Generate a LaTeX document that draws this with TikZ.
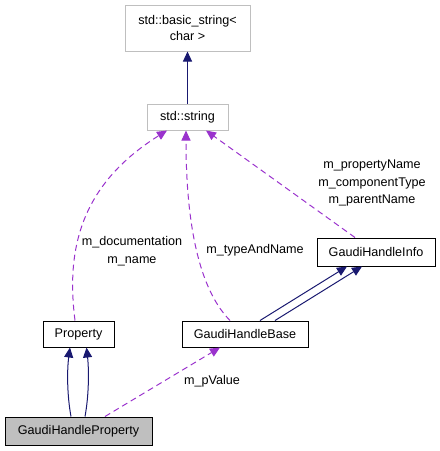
\documentclass[tikz,border=0pt]{standalone}
\usepackage{fontspec}
\setmainfont{Liberation Sans}
\usetikzlibrary{positioning}
\usetikzlibrary{arrows.meta}
\definecolor{edgeblue}{HTML}{191970}
\definecolor{edgepurple}{HTML}{9A32CD}
\definecolor{boxgray}{HTML}{BFBFBF}
\tikzset{
	cls/.style={draw=black, line width=1pt, fill=white, minimum height=26pt, inner sep=0pt, font=\fontsize{12.6}{16}\selectfont},
	extcls/.style={cls, draw=boxgray},
	inherit/.style={draw=edgeblue, line width=1pt, -{Triangle[length=10pt,width=9pt]}},
	uses/.style={draw=edgepurple, line width=1pt, dash pattern=on 6pt off 4pt, -{Triangle[length=10pt,width=9pt]}},
	lbl/.style={font=\fontsize{12.6}{17.5}\selectfont, align=center, inner sep=0pt}
}
\begin{document}
\begin{tikzpicture}[x=1pt, y=-1pt]
			\useasboundingbox (0,0) rectangle (440,451);
			% classes
			\node[extcls, minimum width=125pt, minimum height=46pt, align=center] (bstr) at (187.5,28) {std::basic\_string<\\char >};
			\node[extcls, minimum width=81pt] (str) at (187.5,117) {std::string};
			\node[cls, minimum width=71pt] (prop) at (78.5,334) {Property};
			\node[cls, minimum width=126pt] (gbase) at (245,334) {GaudiHandleBase};
			\node[cls, minimum width=118pt, minimum height=28pt] (ginfo) at (376,252) {GaudiHandleInfo};
			\node[cls, fill=boxgray, minimum width=147pt, minimum height=28pt] (gprop) at (78.5,431) {GaudiHandleProperty};
			% inheritance
			\draw[inherit] (str.north) -- (bstr.south);
			\draw[inherit] ([xshift=-7.5pt]gprop.north) .. controls (67,395) and (67,370) .. ([xshift=-8.5pt]prop.south);
			\draw[inherit] ([xshift=6.5pt]gprop.north) .. controls (89,395) and (89,370) .. ([xshift=8pt]prop.south);
			\draw[inherit] ([xshift=15pt]gbase.north) -- ([xshift=-29pt]ginfo.south);
			\draw[inherit] ([xshift=30pt]gbase.north) -- ([xshift=-14pt]ginfo.south);
			% members
			\draw[uses] ([xshift=-3.5pt]prop.north) .. controls (66,250) and (80,185) .. ([xshift=-20.5pt]str.south);
			\draw[uses] ([xshift=-15pt]gbase.north) .. controls (195,285) and (186,210) .. ([xshift=-1.5pt]str.south);
			\draw[uses] ([xshift=-21pt]ginfo.north) -- ([xshift=18.5pt]str.south);
			\draw[uses] ([xshift=26.5pt]gprop.north) -- ([xshift=-25pt]gbase.south);
			\node[lbl] (lbldoc) at (132,251) {m\_documentation\\m\_name};
			\node[lbl] (lbltype) at (255,250) {m\_typeAndName};
			\node[lbl] (lblinfo) at (372,183) {m\_propertyName\\m\_componentType\\m\_parentName};
			\node[lbl] (lblval) at (212,381) {m\_pValue};
		\end{tikzpicture}
\end{document}
